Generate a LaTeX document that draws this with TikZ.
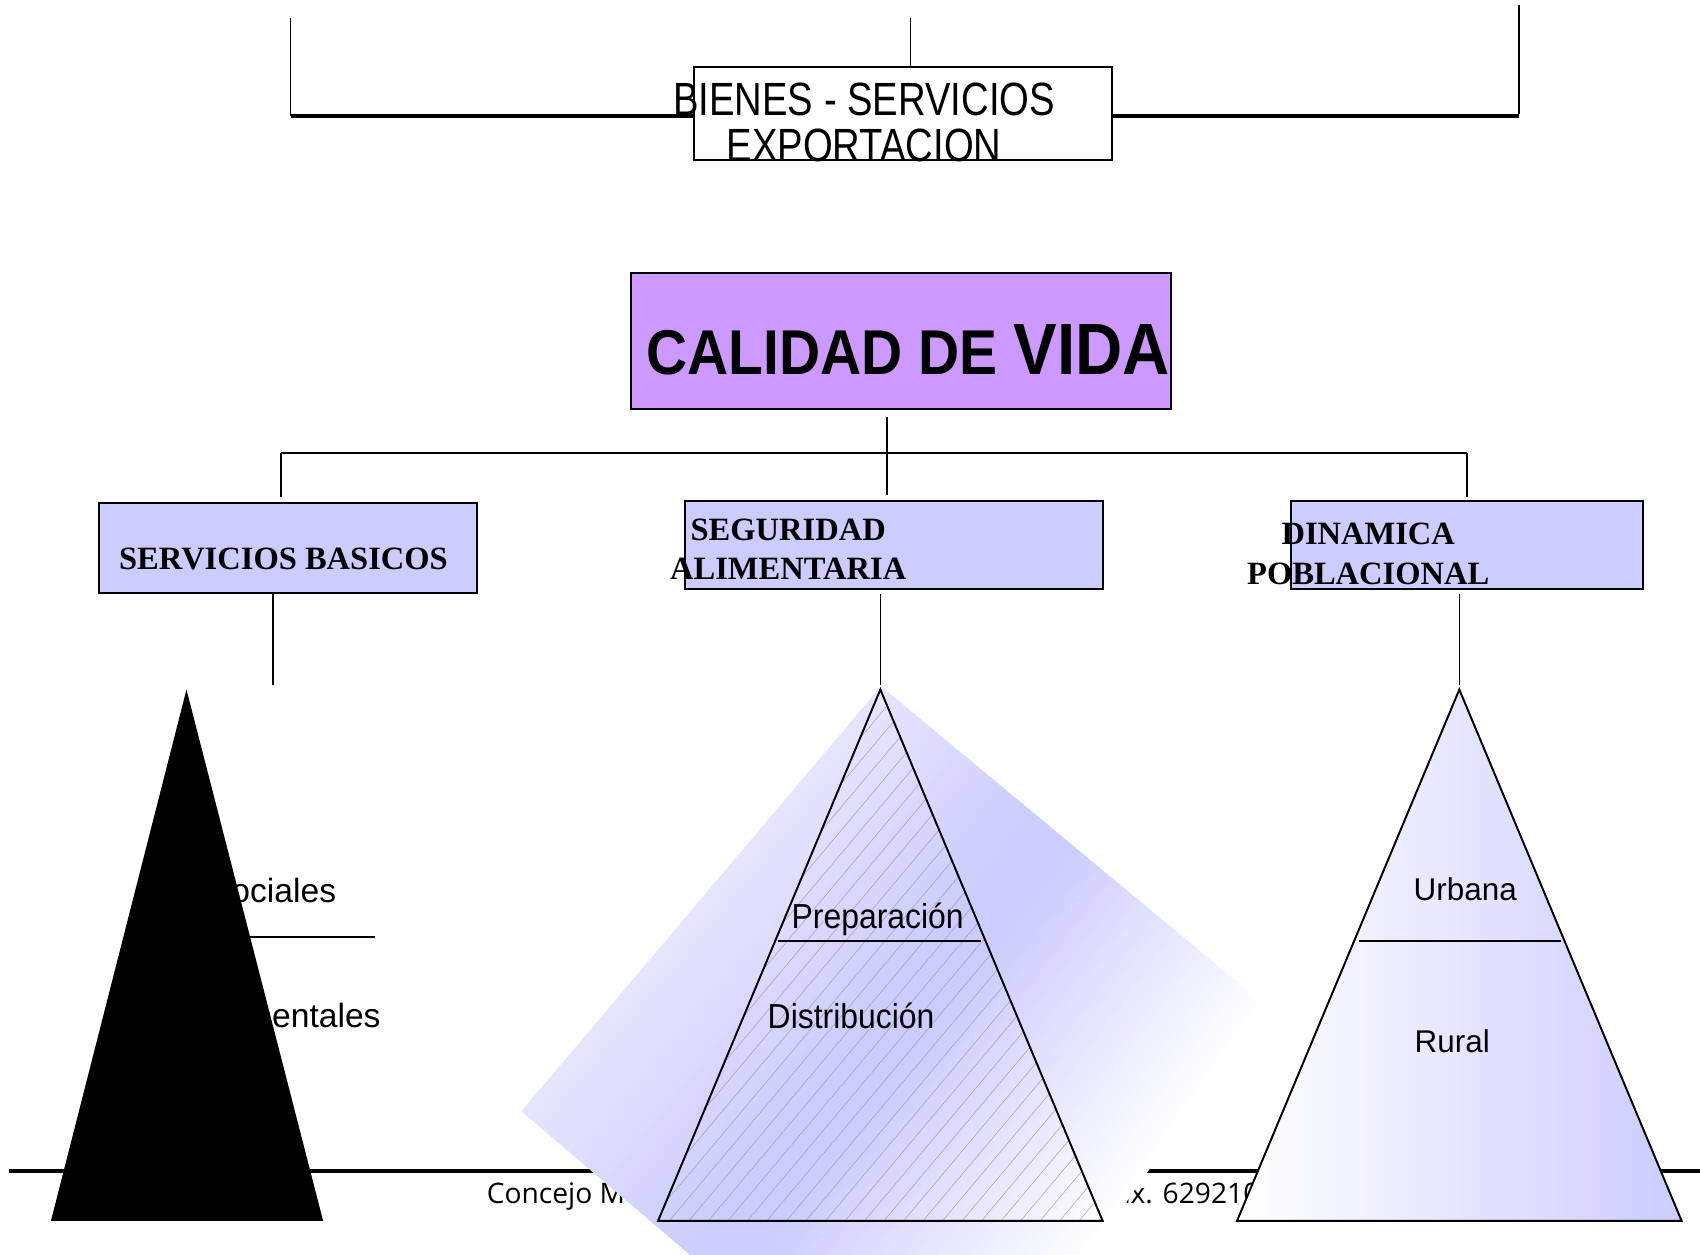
\documentclass[tikz,border=0pt]{standalone}
\usepackage{fontspec}
\setmainfont{Liberation Sans}
\newfontfamily\narrowfont[FakeStretch=0.82]{Liberation Sans}
\newfontfamily\midfont[FakeStretch=0.92]{Liberation Sans}
\newfontfamily\calfont[FakeStretch=0.9]{Liberation Sans}
\newfontfamily\serffont{Liberation Serif}
\newfontfamily\footfont{Open Sans}
\usetikzlibrary{calc}
\definecolor{calfill}{HTML}{CC99FF}
\definecolor{lav}{HTML}{CCCCFF}
\definecolor{lavlight}{HTML}{E6E6FF}
\definecolor{hatchc}{HTML}{9C9CB8}
\begin{document}
\begin{tikzpicture}[x=0.5pt,y=-0.5pt,
  thinline/.style={line width=0.7pt},
  boxstyle/.style={draw, line width=0.9pt, inner sep=0pt, outer sep=0pt},
  txt/.style={inner sep=0pt, outer sep=0pt},
  trianglestyle/.style={line width=0.9pt, line join=miter}]
\useasboundingbox (0,0) rectangle (1568,1157);
\clip (0,0) rectangle (1568,1157);
\fill[white] (0,0) rectangle (1568,1157);

% ---------- footer (mostly hidden) ----------
\coordinate (fl) at (8,1080);
\coordinate (fr) at (1568,1080);
\draw[line width=1.6pt] (fl) -- (fr);
\node[txt, anchor=base west, font=\footfont\fontsize{13pt}{15pt}\selectfont] (foot1) at (449,1110) {Concejo Municipal};
\node[txt, anchor=base west, font=\footfont\fontsize{13pt}{15pt}\selectfont] (foot2) at (1015,1110) {Fax. 629210};

% ---------- labels hidden by the black triangle ----------
\node[txt, anchor=base east, font=\fontsize{15.5pt}{17pt}\selectfont] (soc) at (310,832) {Sociales};
\node[txt, anchor=base east, font=\fontsize{15.5pt}{17pt}\selectfont] (fund) at (351,948) {Fundamentales};
\coordinate (sl1) at (140,864);
\coordinate (sl2) at (346,864);
\draw[thinline] (sl1) -- (sl2);

% ---------- shaded diamond behind the middle pyramid ----------
\coordinate (dT) at (812.6,633);
\coordinate (dL) at (481,1025);
\coordinate (dR) at (1166.7,927);
\coordinate (dB) at (866.7,1353.4);
\foreach \i in {0,...,23}{
  \pgfmathsetmacro{\ta}{\i/60}
  \pgfmathsetmacro{\tb}{(\i+1.4)/60}
  \pgfmathsetmacro{\pc}{100*((\i+0.5)/60)/0.4}
  \fill[lav!\pc!lavlight] ($(dT)!\ta!(dR)$) -- ($(dL)!\ta!(dB)$) -- ($(dL)!\tb!(dB)$) -- ($(dT)!\tb!(dR)$) -- cycle;
}
\foreach \i in {24,...,29}{
  \pgfmathsetmacro{\ta}{\i/60}
  \pgfmathsetmacro{\tb}{(\i+1.4)/60}
  \fill[lav] ($(dT)!\ta!(dR)$) -- ($(dL)!\ta!(dB)$) -- ($(dL)!\tb!(dB)$) -- ($(dT)!\tb!(dR)$) -- cycle;
}
\foreach \i in {30,...,59}{
  \pgfmathsetmacro{\ta}{\i/60}
  \pgfmathsetmacro{\tb}{min(1,(\i+1.4)/60)}
  \pgfmathsetmacro{\pc}{100*(1-(\i+0.5)/60)/0.5}
  \fill[lav!\pc!white] ($(dT)!\ta!(dR)$) -- ($(dL)!\ta!(dB)$) -- ($(dL)!\tb!(dB)$) -- ($(dT)!\tb!(dR)$) -- cycle;
}

% ---------- left pyramid (black) ----------
\fill[black] (172,636) -- (47,1126) -- (298,1126) -- cycle;

% ---------- middle pyramid (hatched) ----------
\begin{scope}
  \clip (812,636) -- (607,1126) -- (1017,1126) -- cycle;
  \foreach \x in {200,218,...,1100}{
    \draw[hatchc, line width=0.22pt] (\x,1130) -- (\x+420,630);
  }
\end{scope}
\draw[trianglestyle] (812,636) -- (607,1126) -- (1017,1126) -- cycle;
\coordinate (ml1) at (718,868);
\coordinate (ml2) at (905,868);
\draw[thinline] (ml1) -- (ml2);
\node[txt, anchor=base, font=\midfont\fontsize{16pt}{18pt}\selectfont] (prep) at (809.5,856.5) {Preparación};
\node[txt, anchor=base, font=\midfont\fontsize{16pt}{18pt}\selectfont] (dist) at (785,948.5) {Distribución};

% ---------- right pyramid (gradient) ----------
\draw[trianglestyle, left color=white, right color=lav] (1346,636) -- (1141,1126) -- (1551,1126) -- cycle;
\coordinate (rl1) at (1253,868);
\coordinate (rl2) at (1440,868);
\draw[thinline] (rl1) -- (rl2);
\node[txt, anchor=base, font=\fontsize{14.5pt}{16pt}\selectfont] (urb) at (1351.5,831) {Urbana};
\node[txt, anchor=base, font=\fontsize{14.5pt}{16pt}\selectfont] (rur) at (1339.5,971) {Rural};

% ---------- top connectors ----------
\coordinate (tl) at (268,17);
\coordinate (tm) at (840,17);
\coordinate (tr) at (1401,5);
\coordinate (hl) at (268,107);
\coordinate (hr) at (1401,107);
\draw[thinline] (tl) -- (hl);
\draw[thinline] (tr) -- (1401,105);
\draw[line width=1.4pt] (hl) -- (hr);
\node[boxstyle, fill=white, minimum width=193pt, minimum height=43pt] (bienes) at (833,105) {};
\draw[thinline] (tm) -- (tm |- bienes.north);
\node[txt, align=center, font=\narrowfont\fontsize{21.5pt}{21pt}\selectfont] (bientxt) at (797,113) {BIENES - SERVICIOS\\EXPORTACION};

% ---------- calidad de vida ----------
\node[boxstyle, fill=calfill, minimum width=249pt, minimum height=62.5pt] (cal) at (831,314.5) {};
\node[txt, anchor=base west, font=\calfont\bfseries] (caltxt) at (596,345) {\fontsize{29.2pt}{30pt}\selectfont CALIDAD DE \fontsize{33.5pt}{34pt}\selectfont VIDA};

\coordinate (c1) at (818,385);
\coordinate (c2) at (818,418);
\coordinate (hL) at (259,418);
\coordinate (hR) at (1353,418);
\coordinate (sTop) at (259,458);
\coordinate (gTop) at (818,457);
\coordinate (dTop) at (1353,458);
\draw[thinline] (c1) -- (c2);
\draw[thinline] (hL) -- (hR);
\draw[thinline] (hL) -- (sTop);
\draw[thinline] (c2) -- (gTop);
\draw[thinline] (hR) -- (dTop);

% ---------- second level boxes ----------
\node[boxstyle, fill=lav, minimum width=174.5pt, minimum height=41.5pt] (serv) at (265.5,505.5) {};
\node[boxstyle, fill=lav, minimum width=192.5pt, minimum height=40.5pt] (seg) at (824.5,502.5) {};
\node[boxstyle, fill=lav, minimum width=162pt, minimum height=40.5pt] (din) at (1353,502.5) {};
\node[txt, font=\serffont\bfseries\fontsize{15pt}{18pt}\selectfont] (servtxt) at (261.5,516) {SERVICIOS BASICOS};
\node[txt, align=center, font=\serffont\bfseries\fontsize{15pt}{18pt}\selectfont] (segtxt) at (727,507) {SEGURIDAD\\ALIMENTARIA};
\node[txt, align=center, font=\serffont\bfseries\fontsize{15pt}{18.5pt}\selectfont] (dintxt) at (1262,510.5) {DINAMICA\\POBLACIONAL};

% ---------- connectors to pyramids ----------
\coordinate (s1) at (252,548);
\coordinate (s2) at (252,632);
\coordinate (g1) at (812,548);
\coordinate (g2) at (812,632);
\coordinate (d1) at (1346,548);
\coordinate (d2) at (1346,632);
\draw[thinline] (s1) -- (s2);
\draw[thinline] (g1) -- (g2);
\draw[thinline] (d1) -- (d2);
\end{tikzpicture}
\end{document}
